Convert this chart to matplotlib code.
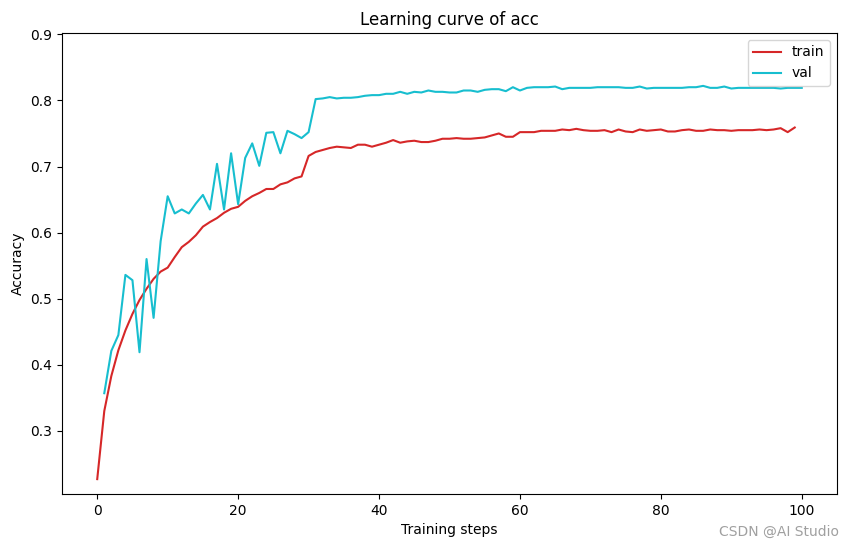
import matplotlib
matplotlib.use('Agg')
import matplotlib.pyplot as plt

# accuracy
train_acc = [
    0.227, 0.330, 0.383, 0.422, 0.452, 0.477, 0.498, 0.515, 0.530, 0.541,
    0.547, 0.563, 0.578, 0.586, 0.596, 0.609, 0.616, 0.622, 0.630, 0.636,
    0.639, 0.648, 0.655, 0.660, 0.666, 0.666, 0.673, 0.676, 0.682, 0.685,
    0.716, 0.722, 0.725, 0.728, 0.730, 0.729, 0.728, 0.733, 0.733, 0.730,
    0.733, 0.736, 0.740, 0.736, 0.738, 0.739, 0.737, 0.737, 0.739, 0.742,
    0.742, 0.743, 0.742, 0.742, 0.743, 0.744, 0.747, 0.750, 0.745, 0.745,
    0.752, 0.752, 0.752, 0.754, 0.754, 0.754, 0.756, 0.755, 0.757, 0.755,
    0.754, 0.754, 0.755, 0.752, 0.756, 0.753, 0.752, 0.756, 0.754, 0.755,
    0.756, 0.753, 0.753, 0.755, 0.756, 0.754, 0.754, 0.756, 0.755, 0.755,
    0.754, 0.755, 0.755, 0.755, 0.756, 0.755, 0.756, 0.758, 0.752, 0.759,
]
val_acc = [
    0.357, 0.421, 0.445, 0.536, 0.528, 0.419, 0.560, 0.471, 0.587, 0.655,
    0.629, 0.635, 0.629, 0.644, 0.657, 0.635, 0.704, 0.635, 0.720, 0.643,
    0.713, 0.735, 0.701, 0.751, 0.752, 0.720, 0.754, 0.749, 0.743, 0.752,
    0.802, 0.803, 0.805, 0.803, 0.804, 0.804, 0.805, 0.807, 0.808, 0.808,
    0.810, 0.810, 0.813, 0.810, 0.813, 0.812, 0.815, 0.813, 0.813, 0.812,
    0.812, 0.815, 0.815, 0.813, 0.816, 0.817, 0.817, 0.814, 0.820, 0.815,
    0.819, 0.820, 0.820, 0.820, 0.821, 0.817, 0.819, 0.819, 0.819, 0.819,
    0.820, 0.820, 0.820, 0.820, 0.819, 0.819, 0.821, 0.818, 0.819, 0.819,
    0.819, 0.819, 0.819, 0.820, 0.820, 0.822, 0.819, 0.819, 0.821, 0.818,
    0.819, 0.819, 0.819, 0.819, 0.819, 0.819, 0.818, 0.819, 0.819, 0.819,
]
train_steps = list(range(0, len(train_acc)))
val_steps = list(range(1, len(val_acc) + 1))

fig = plt.figure(figsize=(8.49, 5.47), dpi=100)
ax = fig.add_axes([62 / 849, 1 - 494 / 547, (837 - 62) / 849, (494 - 33) / 547])

ax.plot(train_steps, train_acc, color='tab:red', label='train')
ax.plot(val_steps, val_acc, color='tab:cyan', label='val')

ax.set_ylim(0.2045, 0.902)
ax.set_xlim(-5, 105)
ax.set_title('Learning curve of acc')
ax.set_xlabel('Training steps')
ax.set_ylabel('Accuracy')
ax.legend(loc='upper right')

fig.text(0.988, 0.015, 'CSDN @AI Studio', ha='right', va='bottom',
         color='#a0a0a0', fontsize=10)

fig.savefig('out.png', dpi=100)
